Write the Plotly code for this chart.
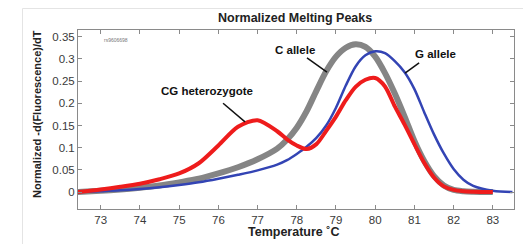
import plotly.graph_objects as go

temps = [72.4, 73, 73.5, 74, 74.5, 75, 75.5, 76, 76.5, 77, 77.5, 77.75, 78, 78.25, 78.5,
         78.75, 79, 79.25, 79.5, 79.75, 80, 80.25, 80.5, 80.75, 81, 81.25, 81.5, 81.75,
         82, 82.25, 82.5, 83, 83.5]

c_allele = [0.0, 0.003, 0.006, 0.010, 0.015, 0.022, 0.030, 0.042, 0.056, 0.074, 0.098, 0.118,
            0.145, 0.182, 0.228, 0.272, 0.305, 0.325, 0.333, 0.327, 0.305, 0.268, 0.222,
            0.170, 0.115, 0.070, 0.036, 0.015, 0.005, 0.002, 0.001, 0.0, None]

g_allele = [0.0, 0.002, 0.004, 0.007, 0.011, 0.016, 0.022, 0.030, 0.039, 0.049, 0.062, 0.072,
            0.086, 0.102, 0.122, 0.150, 0.190, 0.240, 0.283, 0.308, 0.317, 0.313, 0.295,
            0.270, 0.232, 0.180, 0.130, 0.087, 0.052, 0.028, 0.014, 0.003, 0.0]

cg_het = [0.0, 0.006, 0.012, 0.019, 0.029, 0.042, 0.065, 0.105, 0.147, 0.162, 0.137, 0.119,
          0.105, 0.097, 0.108, 0.138, 0.170, 0.207, 0.237, 0.253, 0.257, 0.238, 0.193,
          0.152, 0.108, 0.066, 0.033, 0.013, 0.005, 0.002, 0.001, 0.0, None]

x_ticks = [73, 74, 75, 76, 77, 78, 79, 80, 81, 82, 83]
y_ticks = [0, 0.05, 0.1, 0.15, 0.2, 0.25, 0.3, 0.35]
y_tick_text = ["0", "0.05", "0.1", "0.15", "0.2", "0.25", "0.3", "0.35"]

FONT = "Liberation Sans, Arial, sans-serif"

fig = go.Figure()
fig.add_trace(go.Scatter(x=temps, y=c_allele, mode="lines",
                         line=dict(color="#858585", width=6, shape="spline", smoothing=0.8), name="C allele"))
fig.add_trace(go.Scatter(x=temps, y=g_allele, mode="lines",
                         line=dict(color="#3344b4", width=2.5, shape="spline", smoothing=0.8), name="G allele"))
fig.add_trace(go.Scatter(x=temps, y=cg_het, mode="lines",
                         line=dict(color="#ee1c1c", width=4, shape="spline", smoothing=0.8), name="CG heterozygote"))

axis_common = dict(showline=True, linecolor="#8a8a8a", linewidth=1, mirror="ticks",
                   ticks="inside", ticklen=4, tickcolor="#8a8a8a", showgrid=False, zeroline=False,
                   automargin=False,
                   tickfont=dict(family=FONT, size=11.5, color="#3a3a3a"))

# page body adds an 8px offset; figure is sized to fill the remaining window
W, H = 523, 236
L, T, R, B = 70, 22, 17, 35
PW, PH = W - L - R, H - T - B

fig.update_layout(
    width=W, height=H,
    margin=dict(l=L, r=R, t=T, b=B, autoexpand=False),
    paper_bgcolor="white", plot_bgcolor="white",
    showlegend=False,
    xaxis=dict(range=[72.42, 83.54], tickvals=x_ticks, **axis_common),
    yaxis=dict(range=[-0.038, 0.365], tickvals=y_ticks, ticktext=y_tick_text, **axis_common),
)

def px(xp):
    return (xp - L) / PW

def py(yp):
    return (H - B - yp) / PH

title_font = dict(family=FONT, size=12.5, color="#222")
fig.add_annotation(xref="paper", yref="paper", x=px(286.5), y=py(10), text="<b>Normalized Melting Peaks</b>",
                   showarrow=False, font=title_font, xanchor="center", yanchor="middle")
fig.add_annotation(xref="paper", yref="paper", x=px(285), y=py(224), text="<b>Temperature ˚C</b>",
                   showarrow=False, font=dict(family=FONT, size=12.5, color="#222"), xanchor="center", yanchor="middle")
fig.add_annotation(xref="paper", yref="paper", x=px(29), y=py(106), text="<b>Normalized -d(Fluorescence)/dT</b>",
                   showarrow=False, textangle=-90, font=dict(family=FONT, size=11, color="#222"),
                   xanchor="center", yanchor="middle")

ann_font = dict(family=FONT, size=11.5, color="#111")
fig.add_annotation(x=75.72, y=0.2275, text="<b>CG heterozygote</b>", showarrow=False, font=ann_font)
fig.add_annotation(x=77.96, y=0.32, text="<b>C allele</b>", showarrow=False, font=ann_font)
fig.add_annotation(x=81.53, y=0.311, text="<b>G allele</b>", showarrow=False, font=ann_font)
fig.add_annotation(x=73.38, y=0.342, text="rs9606698", showarrow=False,
                   font=dict(family=FONT, size=5, color="#777"))

for (x0, y0, x1, y1) in [(76.12, 0.200, 76.68, 0.158), (78.26, 0.302, 78.77, 0.270), (81.12, 0.291, 80.76, 0.268)]:
    fig.add_shape(type="line", x0=x0, y0=y0, x1=x1, y1=y1, xref="x", yref="y",
                  line=dict(color="#111", width=1.5))

# faint outer frame
fx0, fx1, fy0, fy1 = px(14.5), px(521.5), py(H + 5), py(0.5)
for (a0, b0, a1, b1) in [(fx0, fy1, fx1, fy1), (fx0, fy0, fx0, fy1), (fx1, fy0, fx1, fy1)]:
    fig.add_shape(type="line", xref="paper", yref="paper", x0=a0, y0=b0, x1=a1, y1=b1,
                  line=dict(color="#e4e4e4", width=1))

fig.write_html("out.html")
